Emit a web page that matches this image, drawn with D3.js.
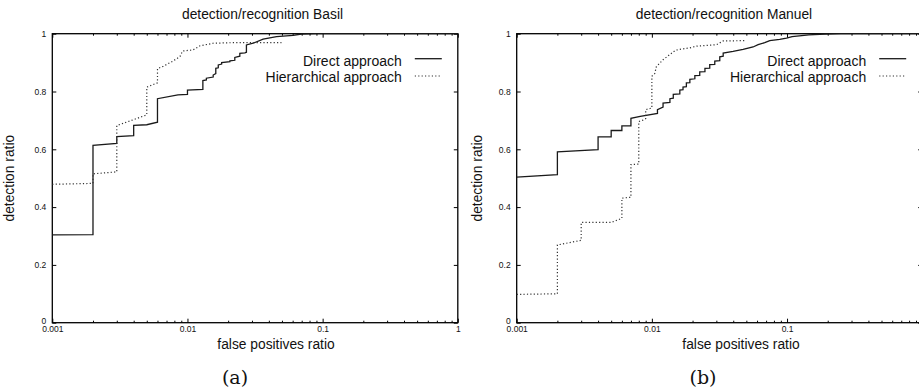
<!DOCTYPE html>
<html>
<head>
<meta charset="utf-8">
<script src="https://cdn.jsdelivr.net/npm/d3@7"></script>
<style>body{margin:0;background:#fff}</style>
</head>
<body>
<svg width="919" height="389"></svg>
<script>
// tick labels
const fprTicks = [0.001, 0.01, 0.1, 1];
const tprTicks = [0, 0.2, 0.4, 0.6, 0.8, 1];
const seriesNames = ["Direct approach", "Hierarchical approach"];
const panelTitles = ["detection/recognition Basil", "detection/recognition Manuel"];
const panelTags = ["(a)", "(b)"];

// [false positives ratio, detection ratio]
const basilDirect = [[0.001,0.304],[0.002,0.305],[0.002,0.614],[0.003,0.62],[0.003,0.644],[0.004,0.647],[0.004,0.683],[0.005,0.685],[0.006,0.694],[0.006,0.775],[0.0085,0.788],[0.01,0.79],[0.01,0.805],[0.013,0.807],[0.013,0.838],[0.0138,0.84],[0.0138,0.846],[0.0155,0.85],[0.0155,0.857],[0.0162,0.862],[0.0162,0.88],[0.0169,0.882],[0.0169,0.892],[0.0179,0.895],[0.0179,0.9],[0.0206,0.903],[0.0206,0.906],[0.0224,0.908],[0.0224,0.918],[0.0244,0.922],[0.0244,0.932],[0.0266,0.934],[0.0273,0.936],[0.0273,0.961],[0.0306,0.967],[0.0363,0.981],[0.0456,0.99],[0.0605,0.994],[0.0697,0.999],[0.09,1],[1,1]];
const basilHier = [[0.001,0.479],[0.002,0.482],[0.002,0.515],[0.003,0.522],[0.003,0.682],[0.005,0.719],[0.005,0.815],[0.006,0.83],[0.006,0.879],[0.0066,0.887],[0.0078,0.905],[0.0088,0.921],[0.0092,0.94],[0.011,0.944],[0.0124,0.958],[0.0155,0.967],[0.0218,0.969],[0.0496,0.969]];
const manuelDirect = [[0.001,0.504],[0.002,0.512],[0.002,0.591],[0.004,0.599],[0.004,0.643],[0.005,0.643],[0.005,0.665],[0.006,0.665],[0.006,0.681],[0.007,0.681],[0.007,0.707],[0.0082,0.714],[0.011,0.724],[0.011,0.737],[0.0121,0.746],[0.0121,0.76],[0.0136,0.762],[0.0136,0.775],[0.0144,0.777],[0.0144,0.79],[0.0161,0.792],[0.0161,0.805],[0.017,0.806],[0.017,0.815],[0.018,0.817],[0.018,0.83],[0.0191,0.831],[0.0191,0.842],[0.0208,0.844],[0.0208,0.855],[0.0226,0.856],[0.0226,0.868],[0.0247,0.869],[0.0247,0.88],[0.0268,0.881],[0.0268,0.893],[0.0292,0.894],[0.0292,0.905],[0.0318,0.907],[0.0318,0.92],[0.0337,0.922],[0.0337,0.933],[0.0399,0.939],[0.0473,0.946],[0.0561,0.954],[0.0611,0.962],[0.0684,0.969],[0.0745,0.976],[0.0883,0.98],[0.0991,0.985],[0.109,0.99],[0.145,0.996],[0.192,0.999],[0.25,1],[1,1]];
const manuelHier = [[0.001,0.098],[0.002,0.1],[0.002,0.269],[0.003,0.285],[0.003,0.347],[0.005,0.347],[0.006,0.361],[0.006,0.431],[0.007,0.434],[0.007,0.547],[0.008,0.549],[0.008,0.696],[0.0085,0.7],[0.009,0.706],[0.009,0.737],[0.01,0.743],[0.01,0.853],[0.0105,0.862],[0.0108,0.886],[0.0115,0.899],[0.0121,0.91],[0.0136,0.928],[0.015,0.943],[0.0166,0.947],[0.0191,0.951],[0.0214,0.957],[0.0301,0.962],[0.0337,0.975],[0.0493,0.976]];

var svg = d3.select("svg");
var width = +svg.attr("width");
var font = "'Liberation Sans', Arial, Helvetica, sans-serif";
var top0 = 33.7, bottom0 = 322.7;

var panels = [
    {left:52.3, right:457.8, titleX:262.5, xlabX:276, ylabX:13.5, tagX:235, data:[basilDirect, basilHier]},
    {left:516.7, right:922.2, titleX:724, xlabX:741, ylabX:482, tagX:703, data:[manuelDirect, manuelHier]}
];

panels.forEach((p, k) => {
    var x = d3.scaleLog().domain([0.001, 1]).range([p.left, p.right]);
    var y = d3.scaleLinear().domain([0, 1]).range([bottom0, top0]);
    var g = svg.append("g");
    var allX = x.ticks();
    var major = d => fprTicks.find(t => Math.abs(t - d) < t * 1e-6);

    // bottom axis with labels (labels beyond the page edge are cut off, as in the original)
    var bx = g.append("g")
        .attr("transform", "translate(0," + bottom0 + ")")
        .call(d3.axisBottom(x).tickValues(allX).tickSize(-4).tickPadding(3.5)
            .tickFormat(d => major(d) !== undefined && x(d) < width - 4 ? String(major(d)) : ""));
    // top axis, ticks only
    var tx = g.append("g")
        .attr("transform", "translate(0," + top0 + ")")
        .call(d3.axisTop(x).tickValues(allX).tickSize(-4).tickFormat(""));
    [bx, tx].forEach((a, i) => {
        a.selectAll(".tick line")
            .attr("y2", d => (major(d) !== undefined ? 4 : 2) * (i == 0 ? -1 : 1));
    });
    // left / right
    var ly = g.append("g")
        .attr("transform", "translate(" + p.left + ",0)")
        .call(d3.axisLeft(y).tickValues(tprTicks).tickSize(-4).tickPadding(6).tickFormat(d => String(d)));
    ly.selectAll("text").attr("dy", d => d == 0 ? "0.1em" : "0.32em");
    var ry = g.append("g")
        .attr("transform", "translate(" + p.right + ",0)")
        .call(d3.axisRight(y).tickValues(tprTicks).tickSize(-4).tickFormat(""));
    [bx, tx, ly, ry].forEach(a => {
        a.select(".domain").remove();
        a.selectAll(".tick line").attr("stroke", "#000").attr("stroke-width", 1);
        a.selectAll("text").attr("font-family", font).attr("font-size", "8.5px").attr("fill", "#111");
    });

    // border
    g.append("rect")
        .attr("x", p.left).attr("y", top0)
        .attr("width", p.right - p.left).attr("height", bottom0 - top0)
        .attr("fill", "none").attr("stroke", "#000").attr("stroke-width", 1.3);

    // curves
    var line = d3.line().x(d => x(d[0])).y(d => y(d[1]));
    p.data.forEach((ds, i) => {
        g.append("path")
            .datum(ds)
            .attr("d", line)
            .attr("fill", "none")
            .attr("stroke", i == 0 ? "#1a1a1a" : "#333")
            .attr("stroke-width", i == 0 ? 1.3 : 1.2)
            .attr("stroke-dasharray", i == 0 ? null : "1.2,2.2");
    });

    // legend
    seriesNames.forEach((s, i) => {
        g.append("text")
            .attr("x", p.right - 56).attr("y", 60.7 + 16.3 * i).attr("dy", "0.35em")
            .attr("text-anchor", "end")
            .attr("font-family", font).attr("font-size", "14px").attr("fill", "#111")
            .text(s);
        g.append("line")
            .attr("x1", p.right - 43).attr("x2", p.right - 16)
            .attr("y1", 58.7 + 17.3 * i).attr("y2", 58.7 + 17.3 * i)
            .attr("stroke", i == 0 ? "#1a1a1a" : "#333")
            .attr("stroke-width", i == 0 ? 1.3 : 1.2)
            .attr("stroke-dasharray", i == 0 ? null : "1.2,2.2");
    });

    // titles and labels
    g.append("text")
        .attr("x", p.titleX).attr("y", 18.5)
        .attr("text-anchor", "middle")
        .attr("font-family", font).attr("font-size", "13.8px").attr("fill", "#111")
        .text(panelTitles[k]);
    g.append("text")
        .attr("x", p.xlabX).attr("y", 349)
        .attr("text-anchor", "middle")
        .attr("font-family", font).attr("font-size", "13.8px").attr("fill", "#111")
        .text("false positives ratio");
    g.append("text")
        .attr("transform", "translate(" + p.ylabX + "," + ((top0 + bottom0) / 2) + ") rotate(-90)")
        .attr("text-anchor", "middle")
        .attr("font-family", font).attr("font-size", "13.8px").attr("fill", "#111")
        .text("detection ratio");
    g.append("text")
        .attr("x", p.tagX).attr("y", 384)
        .attr("text-anchor", "middle")
        .attr("font-family", "'DejaVu Serif', 'Liberation Serif', serif").attr("font-size", "19px").attr("fill", "#111")
        .text(panelTags[k]);
});
</script>
</body>
</html>
